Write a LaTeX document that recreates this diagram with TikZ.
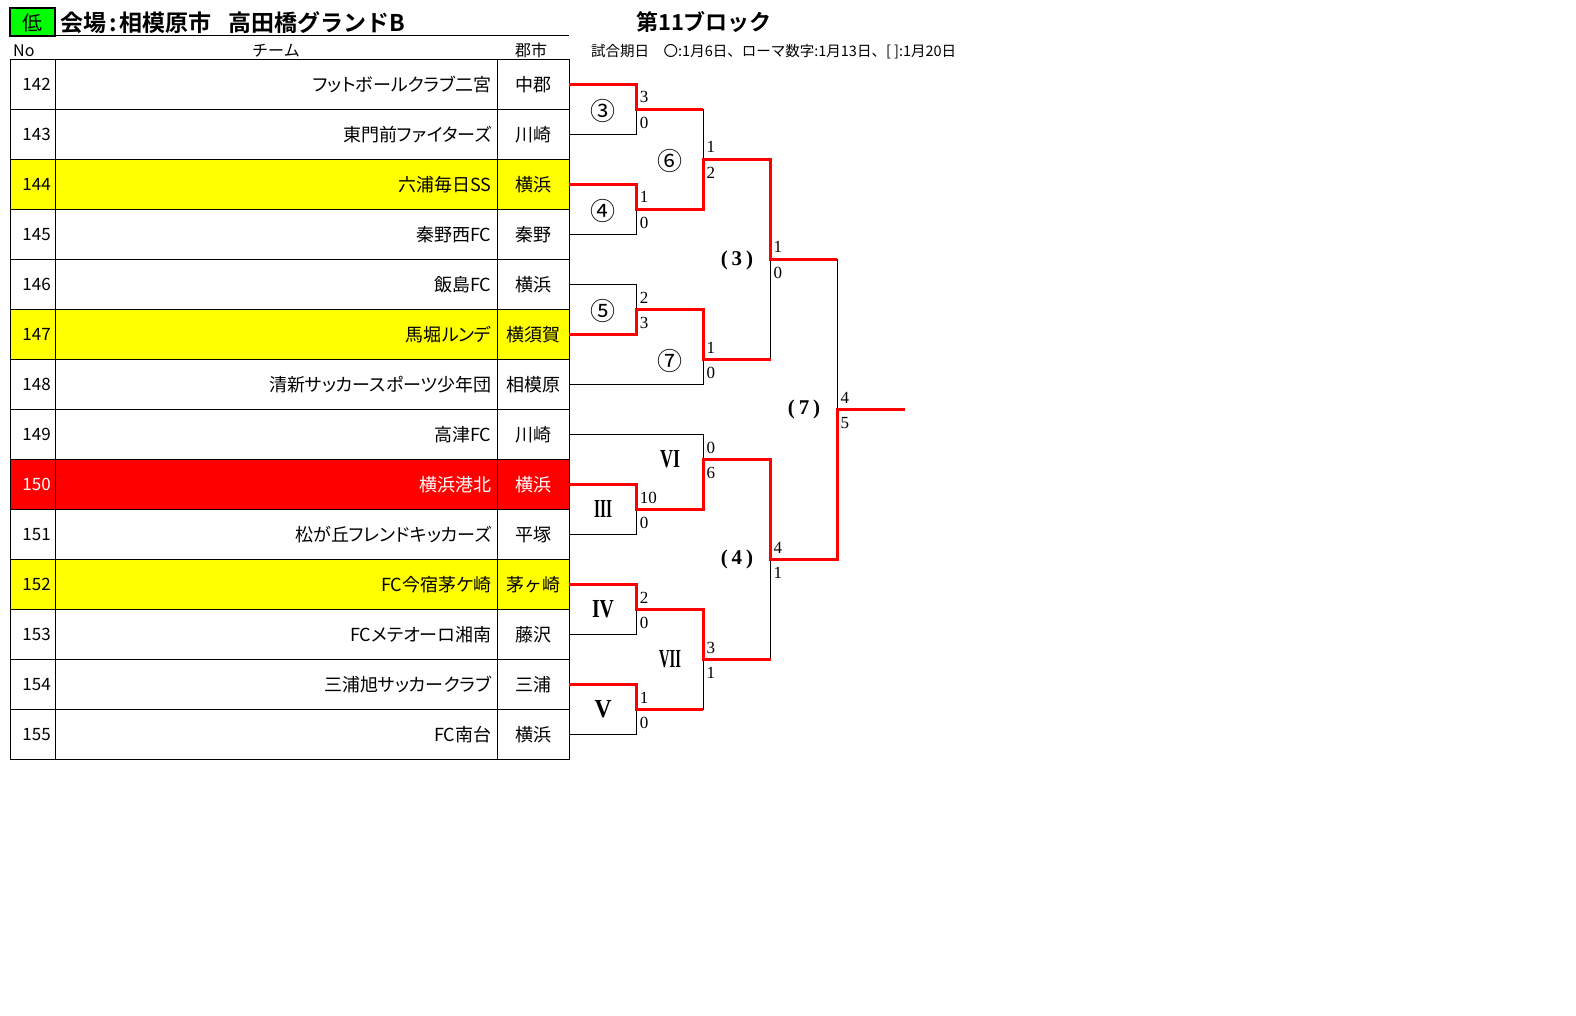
\documentclass[tikz,border=0pt]{standalone}
\usepackage{fontspec}
\setmainfont{Liberation Serif}
\newfontfamily\jp[RawFeature=+palt,BoldFont={Noto Sans CJK JP Bold}]{Noto Sans CJK JP}
\newfontfamily\jpf[BoldFont={Noto Sans CJK JP Bold}]{Noto Sans CJK JP}
\definecolor{xlgreen}{RGB}{0,255,0}
\definecolor{xlyellow}{RGB}{255,255,0}
\definecolor{xlred}{RGB}{255,0,0}
\newcommand\rn[2]{\resizebox{#1}{17pt}{\bfseries #2}}
\tikzset{
  thinln/.style={line width=1pt,black},
  winln/.style={line width=3pt,xlred,line join=miter},
  score/.style={anchor=base west,inner sep=0pt,font=\fontsize{17}{17}\selectfont},
  clabel/.style={inner sep=0pt,font=\jpf\fontsize{25}{25}\selectfont},
  rlabel/.style={inner sep=0pt},
  plabel/.style={inner sep=0pt,font=\bfseries\fontsize{21}{21}\selectfont},
  notxt/.style={anchor=base east,inner sep=0pt,font=\jpf\fontsize{17}{17}\selectfont},
  teamtxt/.style={anchor=base east,inner sep=0pt,font=\jp\fontsize{18}{18}\selectfont},
  citytxt/.style={anchor=base,inner sep=0pt,font=\jpf\fontsize{18}{18}\selectfont},
  hdrtxt/.style={anchor=base,inner sep=0pt,font=\jpf\fontsize{16}{16}\selectfont},
}
\newcommand\trow[6]{%
  \node[notxt,text=#6] (no#2) at (51,{84.3+50*#1+6.3}) {#2};
  \node[teamtxt,text=#6] (tm#2) at (491.5,{84.3+50*#1+6.8}) {#3};
  \node[citytxt,text=#6] (ct#2) at (533,{84.3+50*#1+6.8}) {#4};
  \coordinate (t#2) at (569.3,{84.3+50*#1});
}
\newcommand\scores[3]{%
  \node[score] (#1-a) at ([shift={(3pt,6.3pt)}]#1) {#2};
  \node[score] (#1-b) at ([shift={(3pt,-18.9pt)}]#1) {#3};
}
\begin{document}
\begin{tikzpicture}[x=1pt,y=-1pt]
\useasboundingbox (0,0) rectangle (1576,1016);
\fill[white] (0,0) rectangle (1576,1016);
% header
\draw[line width=2pt,fill=xlgreen] (10,8) rectangle (55,36);
\node[inner sep=0pt,anchor=base,font=\jpf\fontsize{20}{20}\selectfont] (low) at (32.5,31) {低};
\node[inner sep=0pt,anchor=base west,font=\jpf\bfseries\fontsize{23}{23}\selectfont] (title) at (60,32) {会場\kern3pt:\kern3pt 相模原市\kern17pt 高田橋グランドB};
\draw[thinln] (55,36) -- (569.3,36);
\node[hdrtxt,anchor=base west] (hno) at (13,57) {No};
\node[hdrtxt] (hteam) at (276,57) {チーム};
\node[hdrtxt] (hcity) at (531,57) {郡市};
\node[inner sep=0pt,anchor=base,font=\jpf\bfseries\fontsize{22}{22}\selectfont] (block) at (704,31) {第11ブロック};
\node[inner sep=0pt,anchor=base west,font=\jpf\fontsize{14.5}{14.5}\selectfont] (dates) at (591,57) {試合期日　〇:1月6日、ローマ数字:1月13日、[ ]:1月20日};
% row fills
\fill[xlyellow] (10,159.3) rectangle (569.3,209.3);
\fill[xlyellow] (10,309.3) rectangle (569.3,359.3);
\fill[xlred] (10,459.3) rectangle (569.3,509.3);
\fill[xlyellow] (10,559.3) rectangle (569.3,609.3);
% grid
\draw[thinln] (10,59.3) rectangle (569.3,759.3);
\draw[thinln] (55,59.3) -- (55,759.3);
\draw[thinln] (497.5,59.3) -- (497.5,759.3);
\foreach \k in {1,...,13} \draw[thinln] (10,{59.3+50*\k}) -- (569.3,{59.3+50*\k});
% rows
\trow{0}{142}{フットボールクラブ二宮}{中郡}{}{black}
\trow{1}{143}{東門前ファイターズ}{川崎}{}{black}
\trow{2}{144}{六浦毎日SS}{横浜}{}{black}
\trow{3}{145}{秦野西FC}{秦野}{}{black}
\trow{4}{146}{飯島FC}{横浜}{}{black}
\trow{5}{147}{馬堀ルンデ}{横須賀}{}{black}
\trow{6}{148}{清新サッカースポーツ少年団}{相模原}{}{black}
\trow{7}{149}{高津FC}{川崎}{}{black}
\trow{8}{150}{横浜港北}{横浜}{}{white}
\trow{9}{151}{松が丘フレンドキッカーズ}{平塚}{}{black}
\trow{10}{152}{FC今宿茅ケ崎}{茅ヶ崎}{}{black}
\trow{11}{153}{FCメテオーロ湘南}{藤沢}{}{black}
\trow{12}{154}{三浦旭サッカークラブ}{三浦}{}{black}
\trow{13}{155}{FC南台}{横浜}{}{black}
% bracket coordinates
\coordinate (m3) at (636.7,109.3);
\coordinate (m4) at (636.7,209.3);
\coordinate (m5) at (636.7,309.3);
\coordinate (mIII) at (636.7,509.3);
\coordinate (mIV) at (636.7,609.3);
\coordinate (mV) at (636.7,709.3);
\coordinate (m6) at (703.3,159.3);
\coordinate (m7) at (703.3,359.3);
\coordinate (mVI) at (703.3,459.3);
\coordinate (mVII) at (703.3,659.3);
\coordinate (mA) at (770.5,259.3);
\coordinate (mB) at (770.5,559.3);
\coordinate (mC) at (837.3,409.3);
\coordinate (fin) at (905,409.3);
% black bracket
\draw[thinln] (t142) -| (m3) |- (t143);
\draw[thinln] (t144) -| (m4) |- (t145);
\draw[thinln] (t146) -| (m5) |- (t147);
\draw[thinln] (t150) -| (mIII) |- (t151);
\draw[thinln] (t152) -| (mIV) |- (t153);
\draw[thinln] (t154) -| (mV) |- (t155);
\draw[thinln] (m3) -| (m6) |- (m4);
\draw[thinln] (m5) -| (m7) |- (t148);
\draw[thinln] (t149) -| (mVI) |- (mIII);
\draw[thinln] (mIV) -| (mVII) |- (mV);
\draw[thinln] (m6) -| (mA) |- (m7);
\draw[thinln] (mVI) -| (mB) |- (mVII);
\draw[thinln] (mA) -| (mC) |- (mB);
\draw[thinln] (mC) -- (fin);
% winners
\draw[winln] (t142) -| (m3) -- (m3 -| m6);
\draw[winln] (t144) -| (m4) -- (m4 -| m6) -- (m6) -- (m6 -| mA) -- (mA) -- (mA -| mC);
\draw[winln] (t147) -| (m5) -- (m5 -| m7) -- (m7) -- (m7 -| mA);
\draw[winln] (t150) -| (mIII) -- (mIII -| mVI) -- (mVI) -- (mVI -| mB) -- (mB) -- (mB -| mC) -- (mC) -- (fin);
\draw[winln] (t152) -| (mIV) -- (mIV -| mVII) -- (mVII) -- (mVII -| mB);
\draw[winln] (t154) -| (mV) -- (mV -| mVII);
% scores
\scores{m3}{3}{0}
\scores{m4}{1}{0}
\scores{m5}{2}{3}
\scores{mIII}{10}{0}
\scores{mIV}{2}{0}
\scores{mV}{1}{0}
\scores{m6}{1}{2}
\scores{m7}{1}{0}
\scores{mVI}{0}{6}
\scores{mVII}{3}{1}
\scores{mA}{1}{0}
\scores{mB}{4}{1}
\scores{mC}{4}{5}
% match labels
\node[clabel] (l3) at (603,111) {③};
\node[clabel] (l4) at (603,211) {④};
\node[clabel] (l5) at (603,311) {⑤};
\node[clabel] (l6) at (670,161) {⑥};
\node[clabel] (l7) at (670,361) {⑦};
\node[rlabel] (lIII) at (603,509.3) {\rn{18pt}{III}};
\node[rlabel] (lIV) at (603,609.3) {\rn{22pt}{IV}};
\node[rlabel] (lV) at (603,709.3) {\rn{17pt}{V}};
\node[rlabel] (lVI) at (670,459.3) {\rn{20pt}{VI}};
\node[rlabel] (lVII) at (670,659.3) {\rn{22pt}{VII}};
\node[plabel] (lA) at (737,260) {(\kern4pt 3\kern4pt)};
\node[plabel] (lB) at (737,559) {(\kern4pt 4\kern4pt)};
\node[plabel] (lC) at (804,409) {(\kern4pt 7\kern4pt)};
\end{tikzpicture}
\end{document}
